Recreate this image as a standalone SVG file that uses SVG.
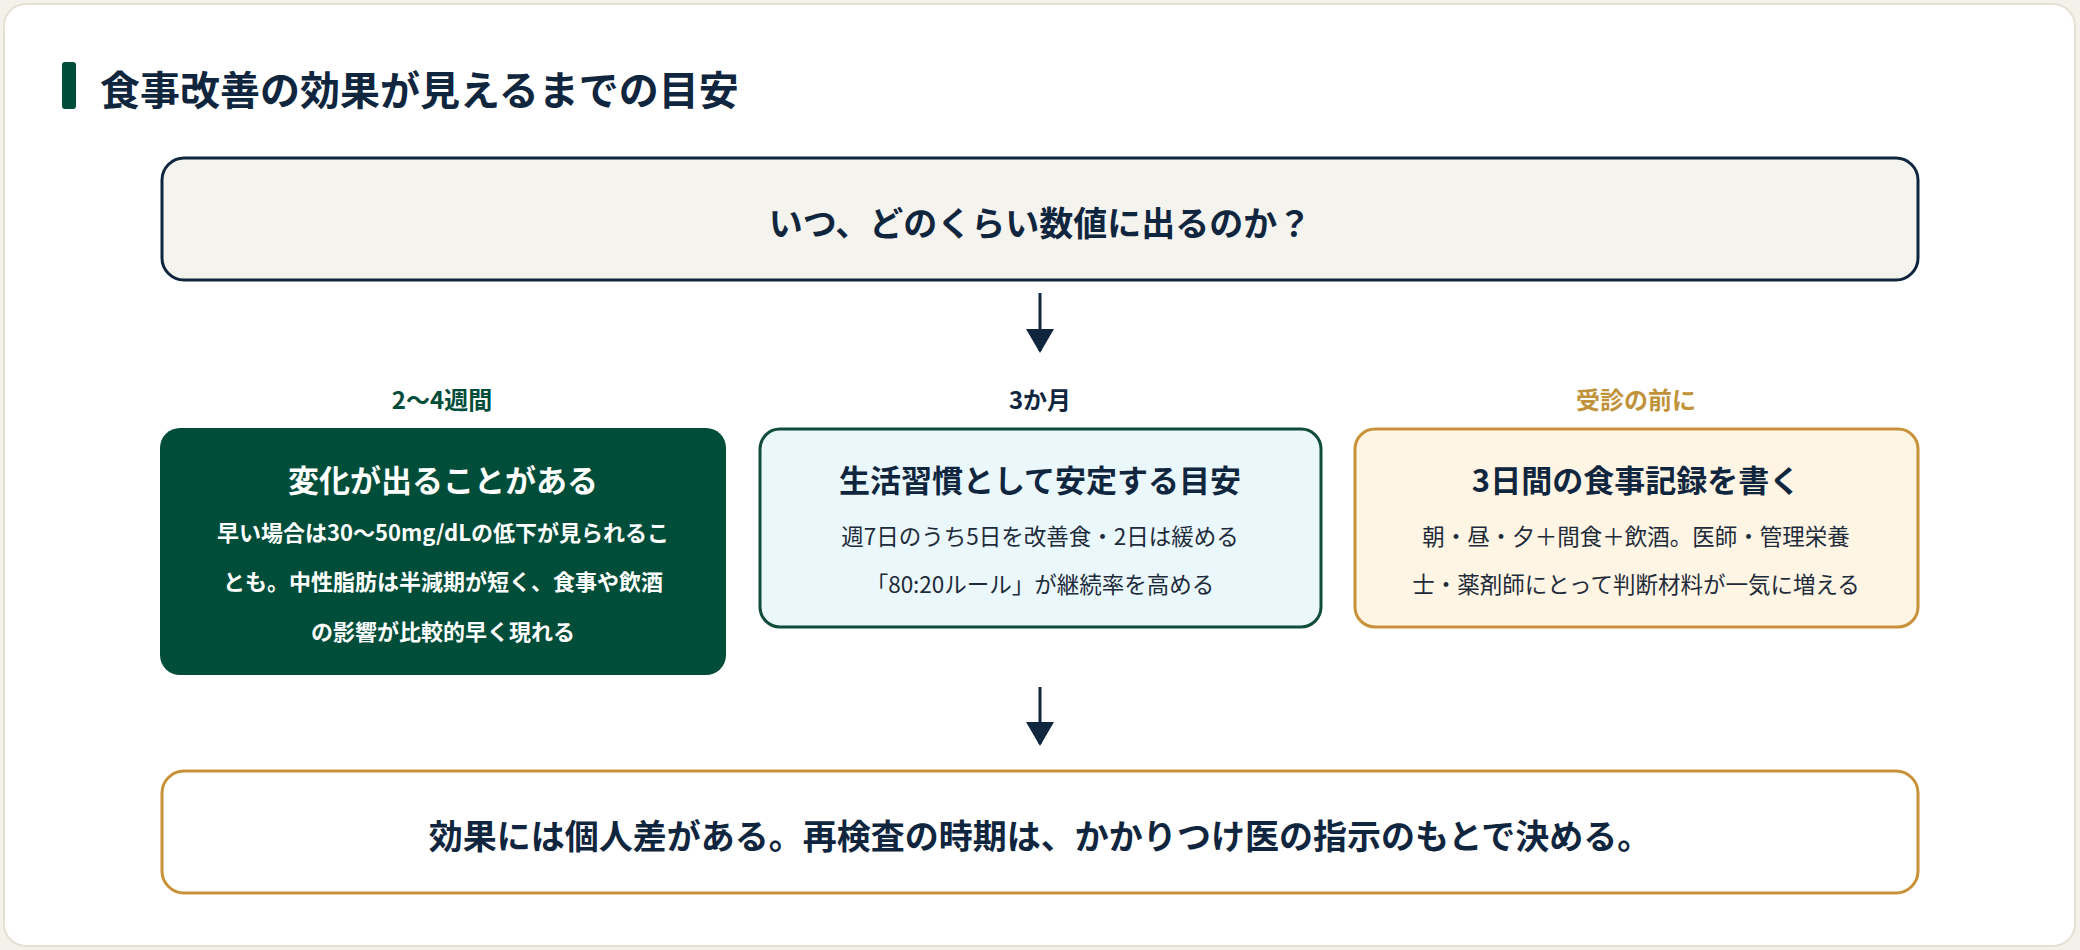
<svg xmlns="http://www.w3.org/2000/svg" width="2080" height="950" viewBox="0 0 2080 950">
<style>
text{font-family:"Noto Sans CJK JP","Noto Sans",sans-serif;text-anchor:middle;dominant-baseline:central}
.h{font-weight:700;font-size:34px;fill:#10263e}
.lbl{font-weight:700;font-size:24px}
.t{font-weight:700;font-size:31px}
.b{font-size:22.5px;fill:#1d2b3a}
</style>
<defs><marker id="ah" markerWidth="10" markerHeight="10" refX="5" refY="4" orient="auto" markerUnits="userSpaceOnUse" viewBox="0 0 10 10"><path d="M0,0 L10,0 L5,10Z" fill="#10263e"/></marker>
<marker id="a2" viewBox="0 0 28 24" markerWidth="28" markerHeight="24" refX="14" refY="22" orient="0" markerUnits="userSpaceOnUse"><path d="M0,0 L28,0 L14,24Z" fill="#10263e"/></marker></defs>
<rect width="2080" height="950" fill="#f3f1ea"/>
<rect x="4" y="4" width="2071" height="942" rx="22" fill="#fff" stroke="#e4e1d4" stroke-width="2"/>
<g id="title"><rect x="62" y="62" width="14" height="47" rx="3" fill="#004d3a"/><text x="100" y="88" style="text-anchor:start;font-weight:700;font-size:40px;fill:#10263e">食事改善の効果が見えるまでの目安</text></g>
<g id="connectors" stroke="#10263e" stroke-width="3"><line x1="1040" y1="293" x2="1040" y2="351" marker-end="url(#a2)"/><line x1="1040" y1="687" x2="1040" y2="744" marker-end="url(#a2)"/></g>
<g id="q"><rect x="162" y="158" width="1756" height="122" rx="22" fill="#f5f3ee" stroke="#10263e" stroke-width="3"/><text class="h" x="1040" y="221">いつ、どのくらい数値に出るのか？</text></g>
<g id="n1"><text class="lbl" x="442" y="398" fill="#004d3a">2〜4週間</text><rect x="160" y="428" width="566" height="247" rx="20" fill="#004d3a"/><text class="t" x="443" y="478" fill="#fff">変化が出ることがある</text><g class="b" style="fill:#fff;font-weight:700;font-size:22px"><text x="443" y="531" fill="#fff">早い場合は30〜50mg/dLの低下が見られるこ</text><text x="443" y="580" fill="#fff">とも。中性脂肪は半減期が短く、食事や飲酒</text><text x="443" y="630" fill="#fff">の影響が比較的早く現れる</text></g></g>
<g id="n2"><text class="lbl" x="1040" y="398" fill="#10263e">3か月</text><rect x="760" y="429" width="561" height="198" rx="20" fill="#eaf7fb" stroke="#0f4d3a" stroke-width="3"/><text class="t" x="1040" y="478" fill="#10263e">生活習慣として安定する目安</text><text class="b" x="1040" y="535">週7日のうち5日を改善食・2日は緩める</text><text class="b" x="1040" y="583">「80:20ルール」が継続率を高める</text></g>
<g id="n3"><text class="lbl" x="1636" y="398" fill="#c0923a">受診の前に</text><rect x="1355" y="429" width="563" height="198" rx="20" fill="#fff5e4" stroke="#c8923a" stroke-width="3"/><text class="t" x="1636" y="478" fill="#10263e">3日間の食事記録を書く</text><text class="b" x="1636" y="535">朝・昼・夕＋間食＋飲酒。医師・管理栄養</text><text class="b" x="1636" y="583">士・薬剤師にとって判断材料が一気に増える</text></g>
<g id="c"><rect x="162" y="771" width="1756" height="122" rx="22" fill="#fff" stroke="#c8923a" stroke-width="3"/><text class="h" x="1040" y="834">効果には個人差がある。再検査の時期は、かかりつけ医の指示のもとで決める。</text></g>
</svg>
